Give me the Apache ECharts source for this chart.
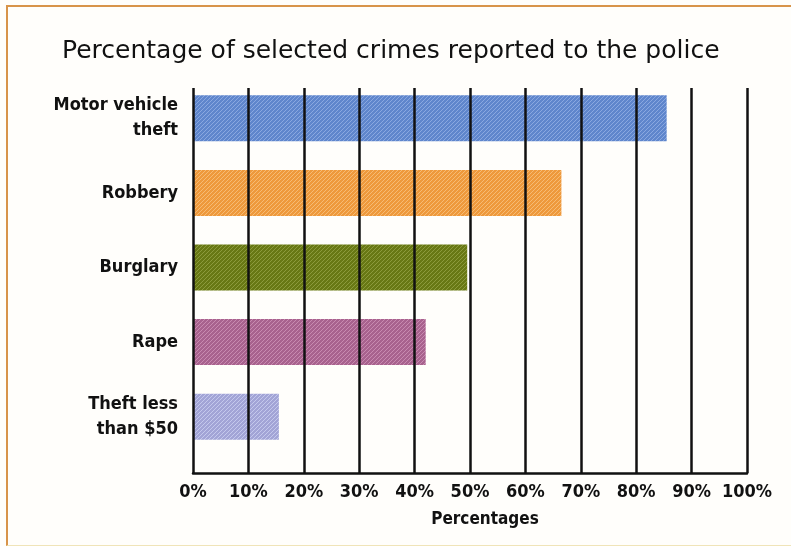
<!DOCTYPE html>
<html>
<head>
<meta charset="utf-8">
<script src="https://cdn.jsdelivr.net/npm/echarts@6/dist/echarts.min.js"></script>
<style>
  html, body { margin: 0; padding: 0; background: #fffefb; }
  #frame {
    position: absolute; left: 6px; top: 5px; width: 785px; height: 538px;
    border-top: 2px solid #d8944a; border-left: 2px solid #d8944a;
    border-bottom: 1px solid #f0e4b8;
  }
  #chart { position: absolute; left: 0; top: 0; width: 791px; height: 546px; }
</style>
</head>
<body>
<div id="frame"></div>
<div id="chart"></div>
<script>
// data
const categories = ['Motor vehicle\ntheft', 'Robbery', 'Burglary', 'Rape', 'Theft less\nthan $50'];
const percentValues = [85.5, 66.5, 49.5, 42, 15.5];
const barColors = [
  ['#5f86cc', '#8aa8e0'],
  ['#ee993c', '#f6bb74'],
  ['#687814', '#8c9a3c'],
  ['#a8628e', '#c88ab0'],
  ['#a2a4d6', '#c4c8ec'],
];
const tickValues = [0, 10, 20, 30, 40, 50, 60, 70, 80, 90, 100];

// hatched fill, like the printed texture
function hatch(base, line) {
  const c = document.createElement('canvas');
  c.width = 4; c.height = 4;
  const ctx = c.getContext('2d');
  ctx.fillStyle = base;
  ctx.fillRect(0, 0, 4, 4);
  ctx.strokeStyle = line;
  ctx.lineWidth = 1;
  ctx.beginPath();
  ctx.moveTo(0, 4); ctx.lineTo(4, 0);
  ctx.moveTo(-1, 1); ctx.lineTo(1, -1);
  ctx.moveTo(3, 5); ctx.lineTo(5, 3);
  ctx.stroke();
  return { image: c, repeat: 'repeat' };
}

const narrow = '"Liberation Sans Narrow", "Arial Narrow", "DejaVu Sans Condensed", sans-serif';

const chart = echarts.init(document.getElementById('chart'));
chart.setOption({
  animation: false,
  title: {
    text: 'Percentage of selected crimes reported to the police',
    left: 57,
    top: 34,
    textStyle: {
      fontFamily: '"DejaVu Sans", sans-serif',
      fontWeight: 'normal',
      fontSize: 25,
      color: '#111',
    },
  },
  grid: [
    { left: 193, right: 44, top: 88, bottom: 73 }, // grid lines + x axis
    { left: 193, right: 44, top: 81, bottom: 92 }, // bars
  ],
  xAxis: [
    {
      gridIndex: 0,
      type: 'value',
      min: 0,
      max: 100,
      interval: 10,
      z: 10,
      axisLine: { show: true, lineStyle: { color: '#111', width: 2.5 } },
      axisTick: { show: false },
      splitLine: { show: true, lineStyle: { color: '#111', width: 2.5 } },
      axisLabel: {
        formatter: (v) => (tickValues.includes(v) ? v + '%' : ''),
        fontFamily: narrow,
        fontWeight: 'bold',
        fontSize: 18,
        color: '#111',
        margin: 10,
      },
      name: 'Percentages',
      nameLocation: 'middle',
      nameGap: 38,
      nameTextStyle: {
        fontFamily: narrow,
        fontWeight: 'bold',
        fontSize: 17,
        color: '#111',
        padding: [0, 0, 0, 30],
      },
    },
    {
      gridIndex: 1,
      type: 'value',
      min: 0,
      max: 100,
      show: false,
    },
  ],
  yAxis: [
    {
      gridIndex: 0,
      type: 'value',
      show: false,
    },
    {
      gridIndex: 1,
      type: 'category',
      inverse: true,
      data: categories,
      axisLine: { show: false },
      axisTick: { show: false },
      axisLabel: {
        fontFamily: narrow,
        fontWeight: 'bold',
        fontSize: 18,
        lineHeight: 25,
        color: '#111',
        margin: 15,
      },
    },
  ],
  series: [
    {
      type: 'bar',
      xAxisIndex: 1,
      yAxisIndex: 1,
      barWidth: 46,
      data: percentValues.map((v, i) => ({
        value: v,
        itemStyle: { color: hatch(barColors[i][0], barColors[i][1]) },
      })),
    },
  ],
});
</script>
</body>
</html>
